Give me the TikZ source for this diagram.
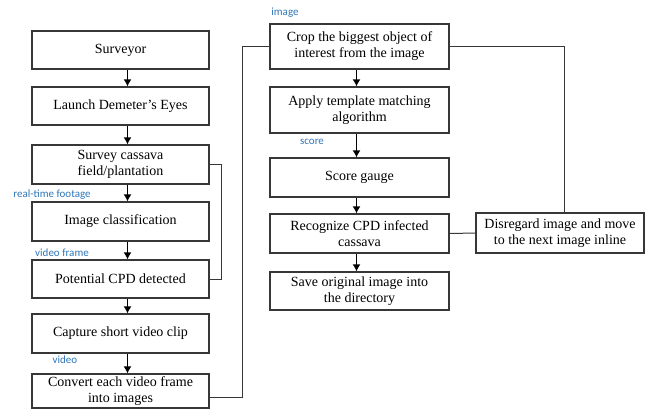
\documentclass[tikz,border=0pt]{standalone}
\usepackage{fontspec}
\setmainfont{Liberation Serif}
\newfontfamily\lblfont{Carlito}
\usetikzlibrary{arrows.meta,positioning}
\definecolor{lblblue}{RGB}{46,117,182}
\definecolor{boxgray}{RGB}{55,55,55}

\begin{document}
\begin{tikzpicture}[x=1pt, y=1pt, >={Latex[length=7pt,width=8pt]},
    box/.style={draw=boxgray, line width=1.2pt, fill=white, minimum width=177pt, minimum height=38pt,
                inner sep=2pt, align=center, font=\fontsize{14}{16}\selectfont},
    rbox/.style={box, minimum width=179pt},
    lbl/.style={text=lblblue, inner sep=0pt, font=\lblfont\fontsize{11}{12}\selectfont},
    flow/.style={->, black, line width=1.3pt},
    link/.style={draw=boxgray, line width=1pt}]
  \useasboundingbox (0,0) rectangle (645,-408);
  % left column
  \node[box] (surveyor) at (120.5,-50) {Surveyor};
  \node[box] (launch) at (120.5,-106) {Launch Demeter's Eyes};
  \node[box, minimum height=39pt] (survey) at (120.5,-164.5) {Survey cassava\\field/plantation};
  \node[box, minimum height=39pt] (classify) at (120.5,-221.5) {Image classification};
  \node[box] (potential) at (120.5,-279) {Potential CPD detected};
  \node[box, minimum height=39pt] (capture) at (120.5,-333.5) {Capture short video clip};
  \node[box, minimum height=34pt, inner sep=1pt] (convert) at (120.5,-391) {Convert each video frame\\into images};
  % right column
  \node[rbox, minimum height=45pt] (crop) at (359.5,-46.5) {Crop the biggest object of\\interest from the image};
  \node[rbox, minimum height=46pt] (apply) at (359.5,-110) {Apply template matching\\algorithm};
  \node[rbox, minimum height=39pt] (gauge) at (359.5,-177.5) {Score gauge};
  \node[rbox, minimum height=39pt] (recognize) at (359.5,-233.5) {Recognize CPD infected\\cassava};
  \node[rbox] (save) at (359.5,-291) {Save original image into\\the directory};
  \node[box, minimum width=168pt, minimum height=40pt] (disregard) at (560,-233) {Disregard image and move\\to the next image inline};
  % flow arrows
  \foreach \a/\b in {surveyor/launch, launch/survey, survey/classify, classify/potential, potential/capture, capture/convert}
    \draw[flow] ([xshift=7pt]\a.south) -- ([xshift=7pt]\b.north);
  \foreach \a/\b in {crop/apply, apply/gauge, gauge/recognize, recognize/save}
    \draw[flow] ([xshift=-3pt]\a.south) -- ([xshift=-3pt]\b.north);
  % connecting lines
  \draw[link] (survey.east) -- ++(12,0) |- (potential.east);
  \draw[link] ([yshift=-6pt]convert.east) -- ++(33,0) |- (crop.west);
  \draw[link] (crop.east) -| ([xshift=4pt]disregard.north);
  \draw[link] (recognize.east) -- (disregard.west);
  % data labels
  \node[lbl] (imglbl) at (285,-13) {image};
  \node[lbl] (scorelbl) at (312,-142) {score};
  \node[lbl] (footagelbl) at (52,-195) {real-time footage};
  \node[lbl] (framelbl) at (62,-253) {video frame};
  \node[lbl] (videolbl) at (65,-360) {video};
\end{tikzpicture}
\end{document}
